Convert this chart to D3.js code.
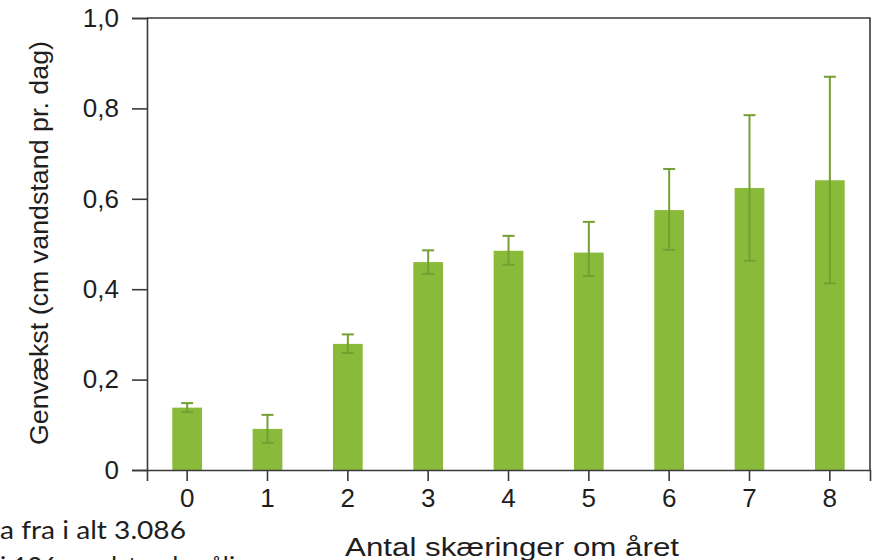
<!DOCTYPE html>
<html>
<head>
<meta charset="utf-8">
<script src="https://cdn.jsdelivr.net/npm/d3@7"></script>
<style>
	body { margin: 0; background: #fff; }
	svg { display: block; }
</style>
</head>
<body>
<div id="chart"></div>
<script>

// data
var categories = ["0", "1", "2", "3", "4", "5", "6", "7", "8"];
var means = [0.138, 0.091, 0.279, 0.460, 0.485, 0.481, 0.575, 0.624, 0.641];
var errLow = [0.128, 0.060, 0.259, 0.434, 0.454, 0.429, 0.487, 0.463, 0.413];
var errHigh = [0.148, 0.122, 0.300, 0.486, 0.518, 0.549, 0.666, 0.785, 0.870];
var yTicks = [0, 0.2, 0.4, 0.6, 0.8, 1.0];
var yTickLabels = ["0", "0,2", "0,4", "0,6", "0,8", "1,0"];

var margin = {top: 18, right: 7, bottom: 90, left: 147},
	width = 877 - margin.left - margin.right,
	height = 560 - margin.top - margin.bottom;

var barColor = "#8aba3a",
	errColor = "#73a030",
	axisColor = "#3a3a3a",
	textColor = "#1e1e1e";

var svg = d3.select("#chart").append("svg")
	.attr("width", 877)
	.attr("height", 560);

var g = svg.append("g")
	.attr("transform", "translate(" + margin.left + "," + margin.top + ")");

var x = d3.scaleBand()
	.domain(categories)
	.range([0, width])
	.paddingInner(0.63)
	.paddingOuter(0.315);

var y = d3.scaleLinear()
	.domain([0, 1])
	.range([height, 0]);

// bars
g.selectAll("rect.bar")
	.data(categories)
	.enter().append("rect")
	.attr("class", "bar")
	.attr("x", function (d) { return x(d); })
	.attr("width", x.bandwidth())
	.attr("y", function (d, i) { return y(means[i]); })
	.attr("height", function (d, i) { return height - y(means[i]); })
	.style("fill", barColor);

// error bars
var err = g.selectAll("g.err")
	.data(categories)
	.enter().append("g")
	.attr("class", "err")
	.attr("transform", function (d) {
		return "translate(" + (x(d) + x.bandwidth() / 2) + ",0)";
	})
	.style("stroke", errColor)
	.style("stroke-width", 2);

err.append("line")
	.attr("y1", function (d, i) { return y(errLow[i]); })
	.attr("y2", function (d, i) { return y(errHigh[i]); });

err.append("line")
	.attr("x1", -6).attr("x2", 6)
	.attr("y1", function (d, i) { return y(errHigh[i]); })
	.attr("y2", function (d, i) { return y(errHigh[i]); });

err.append("line")
	.attr("x1", -6).attr("x2", 6)
	.attr("y1", function (d, i) { return y(errLow[i]); })
	.attr("y2", function (d, i) { return y(errLow[i]); });

// frame (top + right)
g.append("path")
	.attr("d", "M0,0H" + width + "V" + height)
	.style("fill", "none")
	.style("stroke", axisColor)
	.style("stroke-width", 1.6);

// axes
var yAxis = g.append("g")
	.call(d3.axisLeft(y)
		.tickValues(yTicks)
		.tickSize(15)
		.tickPadding(13)
		.tickFormat(function (d, i) { return yTickLabels[i]; }));

var xAxis = g.append("g")
	.attr("transform", "translate(0," + height + ")")
	.call(d3.axisBottom(x).tickSize(11).tickPadding(8));

[yAxis, xAxis].forEach(function (a) {
	a.select(".domain")
		.attr("stroke", axisColor)
		.attr("stroke-width", 1.6);
	a.selectAll(".tick line")
		.attr("stroke", axisColor)
		.attr("stroke-width", 1.6);
	a.selectAll(".tick text")
		.attr("fill", textColor)
		.style("font-family", "'Liberation Sans', Arial, sans-serif")
		.style("font-size", "26px");
});

// axis titles
svg.append("text")
	.attr("transform", "translate(48," + 243 + ") rotate(-90)")
	.attr("text-anchor", "middle")
	.attr("textLength", 404)
	.attr("lengthAdjust", "spacingAndGlyphs")
	.style("font-family", "'Liberation Sans', Arial, sans-serif")
	.style("font-size", "26px")
	.style("fill", textColor)
	.text("Genvækst (cm vandstand pr. dag)");

svg.append("text")
	.attr("x", 512)
	.attr("y", 556)
	.attr("text-anchor", "middle")
	.attr("textLength", 334)
	.attr("lengthAdjust", "spacingAndGlyphs")
	.style("font-family", "'Liberation Sans', Arial, sans-serif")
	.style("font-size", "25px")
	.style("fill", textColor)
	.text("Antal skæringer om året");

// cut-off caption at lower left
svg.append("text")
	.attr("x", 0)
	.attr("y", 539)
	.attr("textLength", 186)
	.attr("lengthAdjust", "spacingAndGlyphs")
	.style("font-family", "Lato, sans-serif")
	.style("font-size", "25px")
	.style("fill", textColor)
	.text("a fra i alt 3.086");

svg.append("text")
	.attr("x", 0)
	.attr("y", 575)
	.attr("textLength", 285)
	.attr("lengthAdjust", "spacingAndGlyphs")
	.style("font-family", "Lato, sans-serif")
	.style("font-size", "25px")
	.style("fill", textColor)
	.text("i 126 vandstandsmålinger");

</script>
</body>
</html>
